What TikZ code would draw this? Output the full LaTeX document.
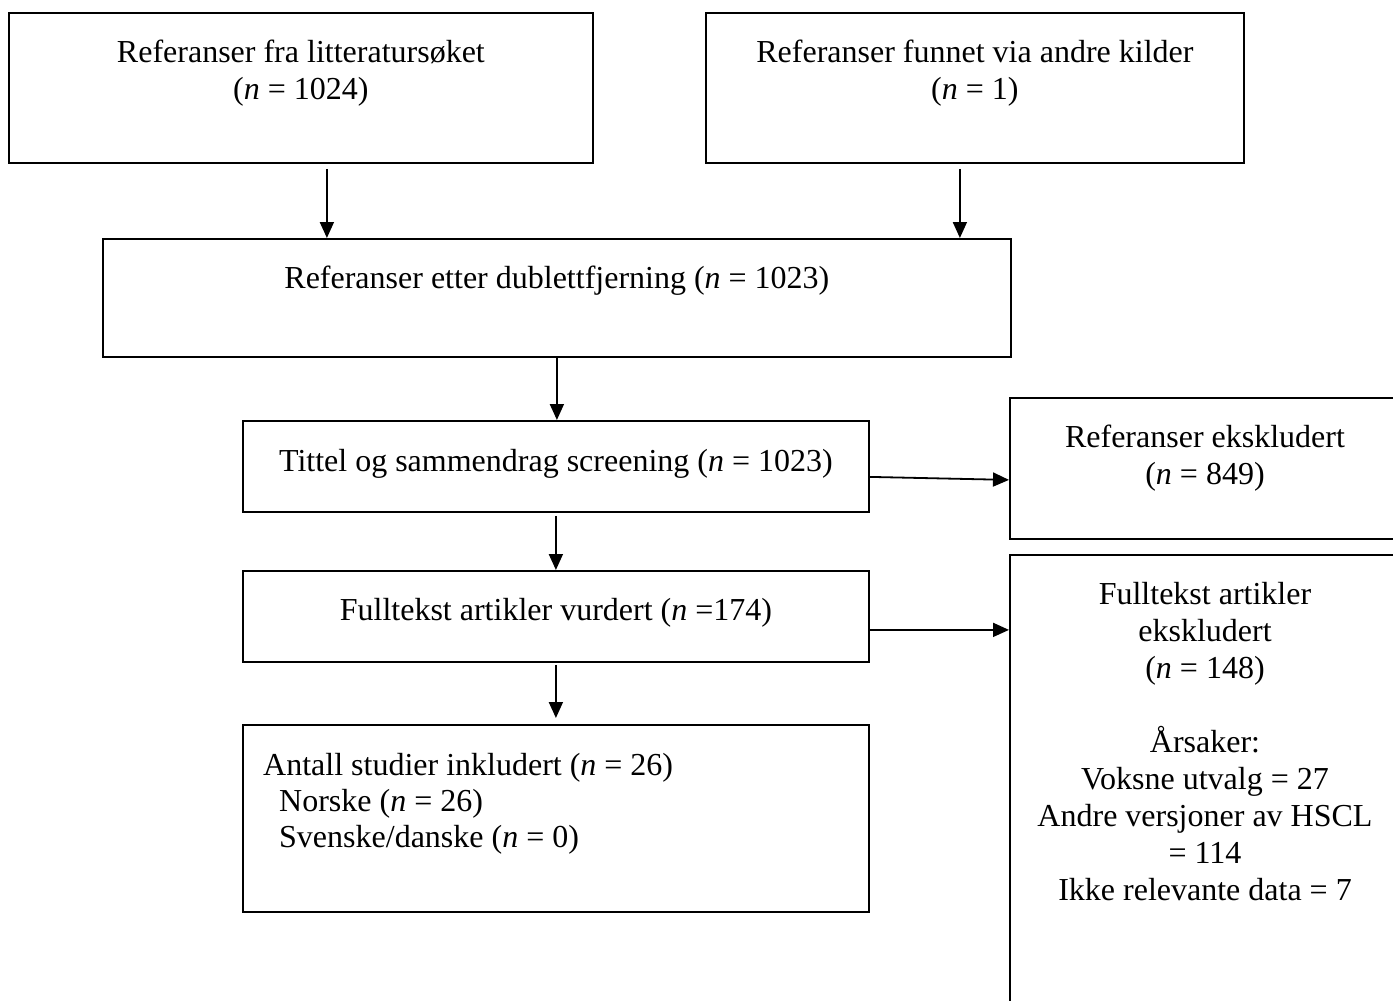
\documentclass[tikz,border=0pt]{standalone}
\usepackage{fontspec}
\setmainfont{Liberation Serif}
\usetikzlibrary{arrows.meta}
\begin{document}
\begin{tikzpicture}[x=1pt,y=-1pt,
  box/.style={draw=black, line width=1.8pt, fill=none, inner sep=0pt, anchor=north west},
  txt/.style={font=\fontsize{32}{37}\selectfont, inner sep=0pt, anchor=base, align=center},
  txtl/.style={font=\fontsize{32}{36}\selectfont, inner sep=0pt, anchor=base west, align=left},
  arr/.style={line width=1.8pt, -{Triangle[length=16pt,width=14pt]}}]
\useasboundingbox (0,0) rectangle (1393,1001);
\fill[white] (0,0) rectangle (1393,1001);
\clip (0,0) rectangle (1393,1001);
% boxes
\node[box, minimum width=584pt, minimum height=150pt] (b1) at (8,12) {};
\node[box, minimum width=538pt, minimum height=150pt] (b2) at (705,12) {};
\node[box, minimum width=908pt, minimum height=118pt] (b3) at (102,238) {};
\node[box, minimum width=626pt, minimum height=91pt] (b4) at (242,420) {};
\node[box, minimum width=392pt, minimum height=141pt] (b5) at (1009,397) {};
\node[box, minimum width=626pt, minimum height=91pt] (b6) at (242,570) {};
\node[box, minimum width=392pt, minimum height=470pt] (b7) at (1009,554) {};
\node[box, minimum width=626pt, minimum height=187pt] (b8) at (242,724) {};
% texts (anchor base = baseline of the last line)
\node[txt] (t1) at (b1.north |- 0,99) {Referanser fra litteratursøket\\(\textit{n} = 1024)};
\node[txt] (t2) at (b2.north |- 0,99) {Referanser funnet via andre kilder\\(\textit{n} = 1)};
\node[txt] (t3) at (b3.north |- 0,288) {Referanser etter dublettfjerning (\textit{n} = 1023)};
\node[txt] (t4) at (b4.north |- 0,471) {Tittel og sammendrag screening (\textit{n} = 1023)};
\node[txt] (t5) at (1205,484) {Referanser ekskludert\\(\textit{n} = 849)};
\node[txt] (t6) at (b6.north |- 0,620) {Fulltekst artikler vurdert (\textit{n} =174)};
\node[txt] (t7) at (1205,900) {Fulltekst artikler\\ekskludert\\(\textit{n} = 148)\\[37pt]Årsaker:\\Voksne utvalg = 27\\Andre versjoner av HSCL\\= 114\\Ikke relevante data = 7};
\node[txtl] (t8) at (263,847) {Antall studier inkludert (\textit{n} = 26)\\\hspace*{16pt}Norske (\textit{n} = 26)\\\hspace*{16pt}Svenske/danske (\textit{n} = 0)};
% connectors
\draw[arr] ([xshift=26pt,yshift=-5pt]b1.south) coordinate (s1) -- (s1 |- b3.north);
\draw[arr] ([xshift=-15pt,yshift=-5pt]b2.south) coordinate (s2) -- (s2 |- b3.north);
\draw[arr] (b3.south) -- (b3.south |- b4.north);
\draw[arr] ([yshift=-3pt]b4.south) -- (b6.north);
\draw[arr] ([yshift=-2pt]b6.south) -- ([yshift=6pt]b8.north);
\draw[arr] ([yshift=-10.5pt]b4.east) -- ([yshift=-11.5pt]b5.west);
\draw[arr] ([yshift=-13.5pt]b6.east) coordinate (s6) -- (s6 -| b7.west);
\end{tikzpicture}
\end{document}
